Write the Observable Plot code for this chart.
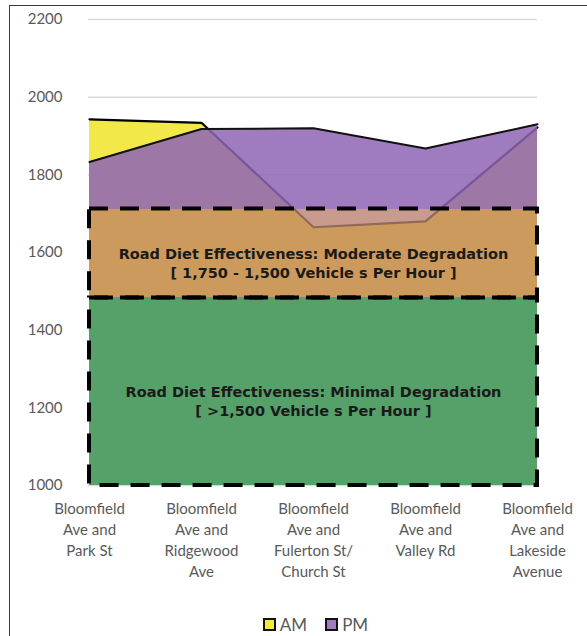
<!DOCTYPE html>
<html>
<head>
<meta charset="utf-8">
<script src="https://cdn.jsdelivr.net/npm/d3@7"></script>
<script src="https://cdn.jsdelivr.net/npm/@observablehq/plot@0.6"></script>
<style>
  html, body { margin: 0; padding: 0; background: #fff; }
  #wrap { position: relative; width: 587px; height: 636px; overflow: hidden; }
  #frame { position: absolute; left: 9px; top: 5px; width: 640px; height: 700px;
           border-left: 1.5px solid #3a3a3a; border-top: 1.5px solid #3a3a3a; }
  #chart { position: absolute; left: 0; top: 0; }
  #legend { position: absolute; left: 0; top: 612px; width: 587px; height: 24px;
            display: flex; justify-content: center; align-items: center; gap: 18px;
            font-family: Lato, sans-serif; font-size: 17px; color: #595959; padding-left: 44px; box-sizing: border-box; }
  .item { display: flex; align-items: center; gap: 4px; }
  .sw { width: 9px; height: 9px; border: 2px solid #111; }
</style>
</head>
<body>
<div id="wrap">
  <div id="frame"></div>
  <div id="chart"></div>
  <div id="legend"></div>
</div>
<script>
// ---- data ----
const categories = [
  "Bloomfield\nAve and\nPark St",
  "Bloomfield\nAve and\nRidgewood\nAve",
  "Bloomfield\nAve and\nFulerton St/\nChurch St",
  "Bloomfield\nAve and\nValley Rd",
  "Bloomfield\nAve and\nLakeside\nAvenue"
];
const amValues = [1943, 1934, 1665, 1680, 1922];
const pmValues = [1833, 1918, 1920, 1868, 1930];
const yTicks = [1000, 1200, 1400, 1600, 1800, 2000, 2200];
const bandLows = [1000, 1483];
const bandHighs = [1483, 1712];
const bandLabels = [
  "Road Diet Effectiveness: Minimal Degradation\n[ >1,500 Vehicle s Per Hour ]",
  "Road Diet Effectiveness: Moderate Degradation\n[ 1,750 - 1,500 Vehicle s Per Hour ]"
];
const seriesNames = ["AM", "PM"];

// ---- tables ----
const data = categories.map((c, i) => ({cat: c, am: amValues[i], pm: pmValues[i]}));
const bands = bandLows.map((lo, i) => ({lo, hi: bandHighs[i], label: bandLabels[i]}));
const yMin = yTicks[0];

const chart = Plot.plot({
  width: 587,
  height: 600,
  marginTop: 19,
  marginBottom: 115,
  marginLeft: 88,
  marginRight: 50,
  style: {fontFamily: "Lato, sans-serif", fontSize: "15px", color: "#595959", background: "transparent"},
  x: {type: "point", domain: categories, padding: 0, axis: null},
  y: {domain: [yTicks[0], yTicks[yTicks.length - 1]], axis: null},
  marks: [
    Plot.ruleY(yTicks, {stroke: "#d9d9d9", strokeWidth: 1.5}),
    Plot.axisY(yTicks, {tickSize: 0, tickPadding: 26, fill: "#595959", fontSize: 15, label: null, tickFormat: d => String(d)}),
    // PM base (visible only inside bands where AM is absent)
    Plot.areaY(data, {x: "cat", y1: () => yMin, y2: "pm", fill: "url(#gPMbase)", curve: "linear"}),
    // AM area
    Plot.areaY(data, {x: "cat", y1: () => yMin, y2: "am", fill: "url(#gAM)", curve: "linear"}),
    Plot.lineY(data, {x: "cat", y: "am", stroke: "url(#gAMline)", strokeWidth: 2.2, curve: "linear"}),
    // PM overlay (translucent above the bands)
    Plot.areaY(data, {x: "cat", y1: () => yMin, y2: "pm", fill: "url(#gPMtop)", curve: "linear"}),
    Plot.lineY(data, {x: "cat", y: "pm", stroke: "#111", strokeWidth: 2, curve: "linear"}),
    // dashed band boxes
    Plot.rect(bands, {x1: () => categories[0], x2: () => categories[categories.length - 1], y1: "lo", y2: "hi",
      fill: "none", stroke: "#000", strokeWidth: 4, strokeDasharray: "19,12"}),
    Plot.text(bands, {x: () => categories[2], y: d => (d.lo + d.hi) / 2, text: "label", dy: 9,
      fontFamily: "DejaVu Sans", fontWeight: "bold", fontSize: 14.5, fill: "#1a1a1a", lineHeight: 1.3}),
    // x labels
    Plot.text(data, {x: "cat", text: "cat", frameAnchor: "bottom", lineAnchor: "top", dy: 14,
      lineHeight: 1.4, fontSize: 15, fill: "#595959"})
  ]
});

// gradients based on the y scale
const ys = chart.scale("y");
const yTop = ys.apply(yTicks[yTicks.length - 1]);
const yBot = ys.apply(yTicks[0]);
const offHi = (ys.apply(bandHighs[1]) - yTop) / (yBot - yTop);
const offLo = (ys.apply(bandLows[1]) - yTop) / (yBot - yTop);
function grad(id, above, band, low) {
  const g = [`<linearGradient id="${id}" gradientUnits="userSpaceOnUse" x1="0" x2="0" y1="${yTop}" y2="${yBot}">`];
  const stops = [[0, above], [offHi, above], [offHi, band], [offLo, band], [offLo, low], [1, low]];
  for (const [o, [c, a]] of stops) g.push(`<stop offset="${o}" stop-color="${c}" stop-opacity="${a}"/>`);
  g.push(`</linearGradient>`);
  return g.join("");
}
const ns = "http://www.w3.org/2000/svg";
const defs = document.createElementNS(ns, "defs");
defs.innerHTML =
  grad("gPMbase", ["#ffffff", 0], ["#c99a8e", 1], ["#56a06a", 1]) +
  grad("gAM", ["#f2e84a", 1], ["#cc9a5c", 1], ["#56a06a", 1]) +
  grad("gAMline", ["#000000", 1], ["#8f6a58", 1], ["#56a06a", 0]) +
  grad("gPMtop", ["#8f64b5", 0.85], ["#8f64b5", 0], ["#8f64b5", 0]);
chart.insertBefore(defs, chart.firstChild);
document.getElementById("chart").appendChild(chart);

// legend
const swatchColors = ["#f2e84a", "#a07bc0"];
const legend = document.getElementById("legend");
seriesNames.forEach((n, i) => {
  const it = document.createElement("div");
  it.className = "item";
  it.innerHTML = `<span class="sw" style="background:${swatchColors[i]}"></span><span>${n}</span>`;
  legend.appendChild(it);
});
</script>
</body>
</html>
